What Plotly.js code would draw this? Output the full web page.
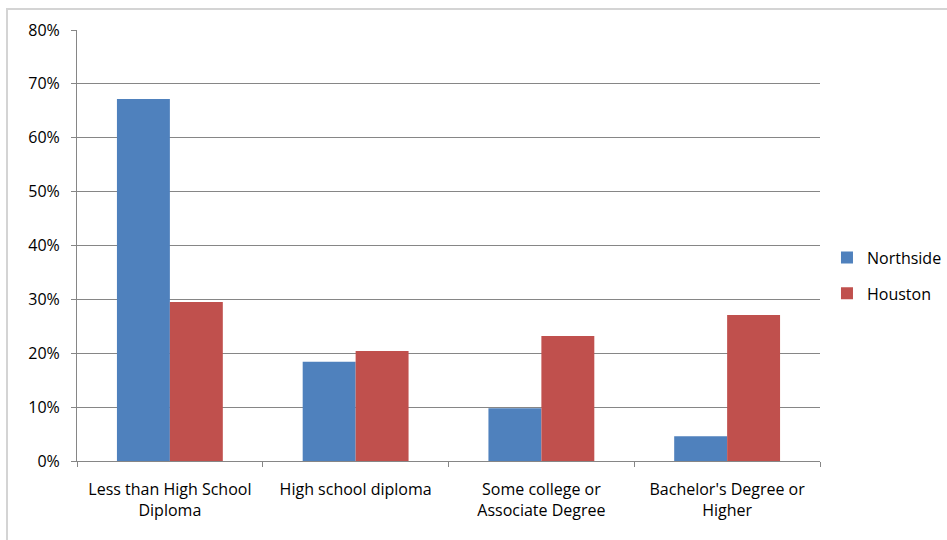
<!DOCTYPE html>
<html>
<head>
<meta charset="utf-8">
<script src="https://cdn.plot.ly/plotly-3.0.1.min.js"></script>
<style>
  html, body { margin: 0; padding: 0; background: #fff; }
  #frame { position: absolute; left: 6px; top: 8px; width: 941px; height: 532px;
           border-left: 2px solid #d4d4d4; border-top: 2px solid #d4d4d4; box-sizing: border-box; }
  #chart { position: absolute; left: 0; top: 0; width: 947px; height: 540px; }
</style>
</head>
<body>
<div id="frame"></div>
<div id="chart"></div>
<script>
// Educational attainment shares, Northside vs. Houston
const categories = [
  "Less than High School<br>Diploma",
  "High school diploma",
  "Some college or<br>Associate Degree",
  "Bachelor's Degree or<br>Higher"
];
const northside = [0.672, 0.184, 0.098, 0.046];
const houston   = [0.295, 0.204, 0.232, 0.271];
const yTicks = [0, 0.1, 0.2, 0.3, 0.4, 0.5, 0.6, 0.7, 0.8];

const font = { family: "Open Sans, Liberation Sans, sans-serif", size: 16, color: "#000" };

const traces = [
  { type: "bar", name: "Northside", legendgroup: "n", x: categories, y: northside,
    marker: { color: "#4F81BD" }, hoverinfo: "y" },
  { type: "bar", name: "Houston", legendgroup: "h", x: categories, y: houston,
    marker: { color: "#C0504D" }, hoverinfo: "y" }
];

const layout = {
  width: 947, height: 540,
  paper_bgcolor: "rgba(0,0,0,0)", plot_bgcolor: "rgba(0,0,0,0)",
  margin: { l: 77, r: 127, t: 30, b: 79, autoexpand: false },
  font: font,
  barmode: "group",
  bargap: 0.43, bargroupgap: 0,
  showlegend: true,
  legend: { x: 1.0094, xanchor: "left", y: 0.43, yanchor: "middle",
            traceorder: "grouped", tracegroupgap: 12,
            font: { family: font.family, size: 16 }, itemwidth: 30 },
  xaxis: {
    type: "category", showgrid: false, showline: true, linecolor: "#868686", linewidth: 1,
    ticks: "outside", tickson: "boundaries", ticklen: 5, tickcolor: "#868686",
    ticklabelstandoff: 14, zeroline: false, fixedrange: true
  },
  yaxis: {
    range: [0, 0.8], tickvals: yTicks, tickformat: ".0%",
    showgrid: true, gridcolor: "#868686", gridwidth: 1,
    showline: true, linecolor: "#868686", linewidth: 1,
    ticks: "outside", ticklen: 5, tickcolor: "#868686",
    ticklabelstandoff: 8, zeroline: false, fixedrange: true
  }
};

Plotly.newPlot("chart", traces, layout, { displayModeBar: false, staticPlot: true });
</script>
</body>
</html>
